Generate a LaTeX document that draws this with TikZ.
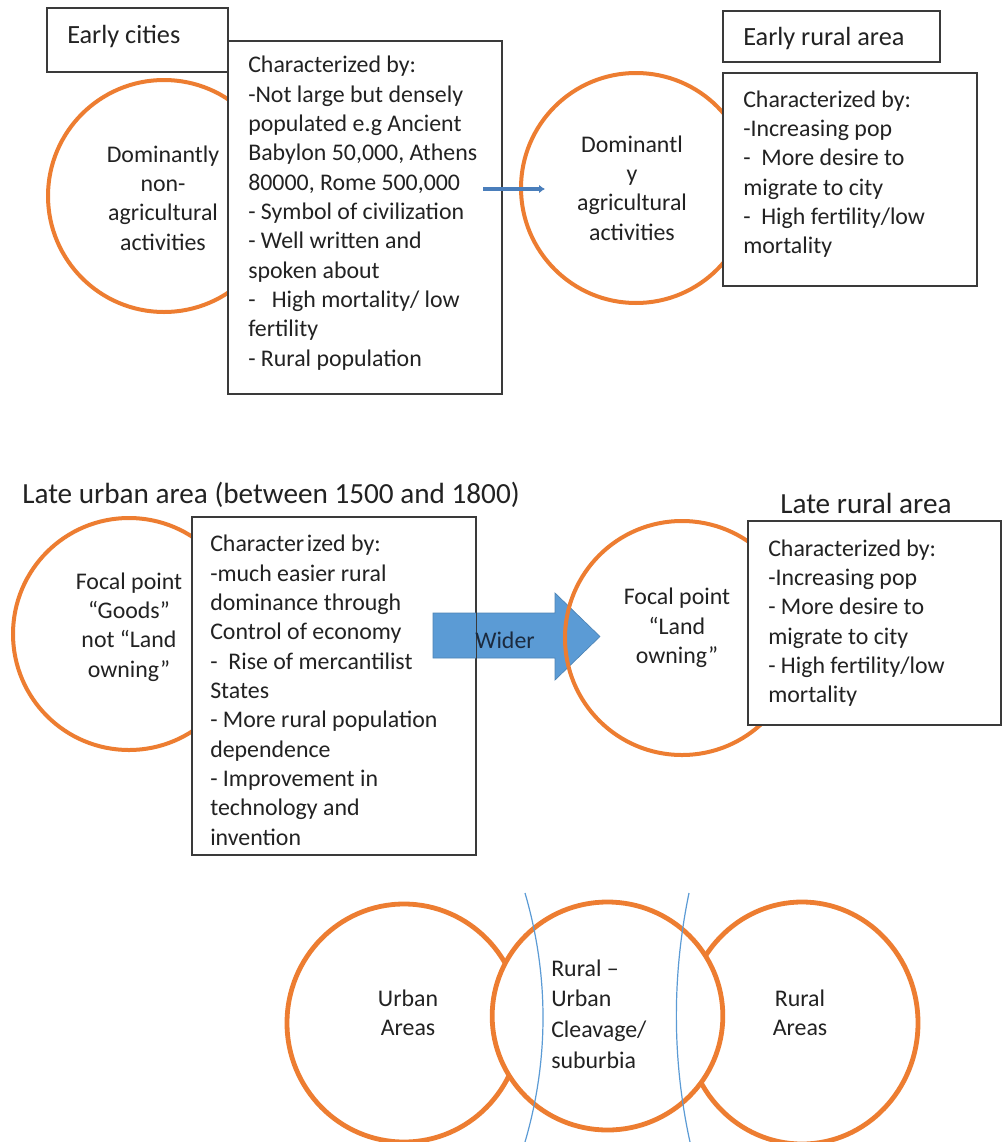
\documentclass[tikz,border=0pt]{standalone}
\usepackage{fontspec}
\setmainfont{Carlito}
\usetikzlibrary{calc,fit,arrows.meta,shapes.geometric}

\definecolor{ink}{HTML}{222222}
\definecolor{navyink}{HTML}{1B2A3E}
\definecolor{orng}{HTML}{ED7D31}
\definecolor{arrowblue}{HTML}{4A7EBB}
\definecolor{blockblue}{HTML}{5B9BD5}
\definecolor{seamblue}{HTML}{5B9BD5}
\definecolor{edge}{HTML}{3A3A3A}

\tikzset{
  orb/.style={circle, draw=orng, line width=3pt, minimum size=#1, inner sep=0pt},
  bigorb/.style={ellipse, draw=orng, line width=3.6pt, inner sep=0pt},
  panel/.style={draw=edge, fill=white, line width=1.1pt, inner sep=0pt},
  body/.style={font=\fontsize{17.9}{22}\selectfont, text=ink, inner sep=0pt},
  % multi-line text: the base anchor sits on the last line
  listtext/.style={body, align=left, anchor=base west},
  orbtext/.style={body, align=center, anchor=center},
  labeltext/.style={font=\fontsize{19.7}{24}\selectfont, text=ink, inner sep=0pt, anchor=base west},
  titletext/.style={font=\fontsize{21.9}{26}\selectfont, text=ink, inner sep=0pt, anchor=base west},
  seam/.style={draw=seamblue, line width=0.9pt},
}

\begin{document}
\begin{tikzpicture}[x=0.75pt, y=-0.75pt]
  \useasboundingbox (0,0) rectangle (1003,1142);
  \fill[white] (0,0) rectangle (1003,1142);

  % ---------- Early cities ----------
  \node[orb=174pt] (c1) at (164,196) {};
  \node[panel, fit={(47,8) (228,72)}] (lblA) {};
  \node[labeltext] (lblAt) at (67,43) {Early cities};
  \node[panel, fit={(228,41) (502,394)}] (b2) {};
  \node[listtext] (b2t) at (248,366.3) {Characterized by:\\
    -Not large but densely\\
    populated e.g Ancient\\
    Babylon 50,000, Athens\\
    80000, Rome 500,000\\
    - Symbol of civilization\\
    - Well written and\\
    spoken about\\
    -\ \ \ High mortality/ low\\
    fertility\\
    - Rural population};
  \node[orbtext] (c1t) at (163,198) {Dominantly\\non-\\agricultural\\activities};

  % ---------- Early rural area ----------
  \node[orb=172.5pt] (c3) at (636,188) {};
  \node[orbtext] (c3t) at (632,188) {Dominantl\\y\\agricultural\\activities};
  \node[panel, fit={(723,11) (940,62)}] (lblB) {};
  \node[labeltext] (lblBt) at (743,45) {Early rural area};
  \node[panel, fit={(723,73) (977,286)}] (b4) {};
  \node[listtext] (b4t) at (743,253.7) {Characterized by:\\
    -Increasing pop\\
    -\ \ More desire to\\
    migrate to city\\
    -\ \ High fertility/low\\
    mortality};

  \coordinate (a1s) at (483,189);
  \coordinate (a1e) at (545,189);
  \draw[arrowblue, line width=2.8pt, -{Latex[length=4.5pt,width=6.5pt]}] (a1s) -- (a1e);

  % ---------- Late urban area ----------
  \node[titletext] (title1) at (22,503) {Late urban area (between 1500 and 1800)};
  \node[orb=174pt] (c5) at (129,634) {};
  \node[orbtext] (c5t) at (129,627) {Focal point\\“Goods”\\not “Land\\owning”};
  \node[panel, fit={(192,517) (476,855)}] (b6) {};
  \node[listtext] (b6t) at (210,845.3) {Character\kern2pt ized by:\\
    -much easier rural\\
    dominance through\\
    Control of economy\\
    -\ \ Rise of mercantilist\\
    States\\
    -\ More rural population\\
    dependence\\
    -\ Improvement in\\
    technology and\\
    invention};

  % wide block arrow
  \fill[blockblue, draw=blockblue!85!black, line width=0.5pt]
    (433,613) -- (555,613) -- (555,593) -- (600,636.5) -- (555,680) -- (555,658) -- (433,658) -- cycle;
  \draw[draw=edge, line width=1.1pt] (b6.north west) rectangle (b6.south east);
  \node[body, text=navyink, anchor=center] (wider) at (505,640) {Wider};

  % ---------- Late rural area ----------
  \node[orb=175.5pt] (c7) at (682,638) {};
  \node[orbtext] (c7t) at (677,628) {Focal point\\“Land\\owning”};
  \node[titletext] (title2) at (780,513) {Late rural area};
  \node[panel, fit={(748,521) (1001,725)}] (b8) {};
  \node[listtext] (b8t) at (768,702.7) {Characterized by:\\
    -Increasing pop\\
    - More desire to\\
    migrate to city\\
    - High fertility/low\\
    mortality};

  % ---------- Urban / rural continuum ----------
  \node[bigorb, minimum width=175.5pt, minimum height=178.5pt] (cu) at (404,1023) {};
  \node[bigorb, minimum width=174pt, minimum height=181.5pt] (cr) at (802,1023) {};
  \node[bigorb, minimum width=173pt, minimum height=171pt, fill=white] (cm) at (607.5,1016) {};
  \coordinate (la1) at (525,893);
  \coordinate (la2) at (525,1142);
  \coordinate (ra1) at (689,893);
  \coordinate (ra2) at (690,1142);
  \draw[seam] (la1) .. controls (549,975) and (549,1060) .. (la2);
  \draw[seam] (ra1) .. controls (672,975) and (672,1060) .. (ra2);
  \node[orbtext] (cut) at (408,1013) {Urban\\Areas};
  \node[body, align=left, anchor=base west, font=\fontsize{17.9}{23}\selectfont] (cmt) at (551,1068) {Rural –\\Urban\\Cleavage/\\suburbia};
  \node[orbtext] (crt) at (800,1013) {Rural\\Areas};
\end{tikzpicture}
\end{document}
